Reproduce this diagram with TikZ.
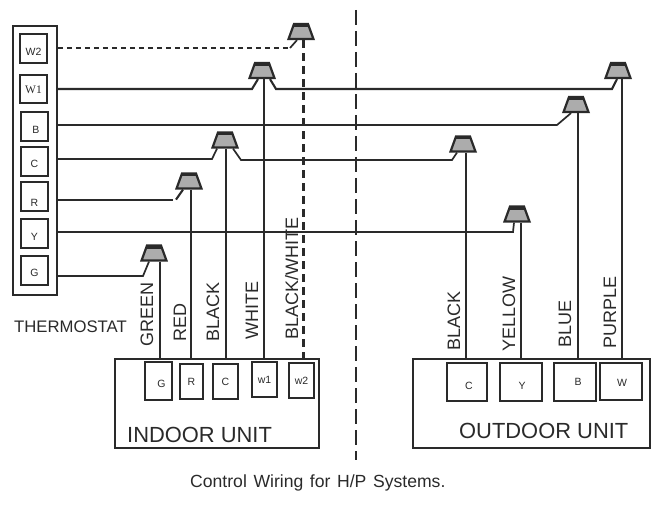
\documentclass[tikz,border=0pt]{standalone}
\usepackage{fontspec}
\setmainfont{Liberation Sans}
\newfontfamily\wserif{Liberation Serif}
\usepackage{xcolor}
\usepackage{tikz}
\usetikzlibrary{calc,shapes.geometric}
\definecolor{WireDark}{RGB}{42, 42, 42}
\definecolor{PlugGray}{RGB}{172, 172, 172}
\tikzset{
    wire/.style={draw=WireDark, line width=1.7pt},
    heavywire/.style={draw=WireDark, line width=2.1pt},
    dashwire/.style={draw=WireDark, line width=1.9pt, dash pattern=on 5pt off 4pt},
    term/.style 2 args={draw=WireDark, line width=1.6pt, fill=white, inner sep=0pt, minimum width=#1, minimum height=#2},
    tlab/.style={text=WireDark, inner sep=0pt, font=\fontsize{10.5}{12}\selectfont},
    unit/.style={draw=WireDark, line width=1.4pt, inner sep=0pt},
    colour/.style={rotate=90, anchor=base west, inner sep=0pt, text=WireDark, font=\fontsize{18}{20}\selectfont},
    big/.style={anchor=base west, inner sep=0pt, text=WireDark, font=\fontsize{21.9}{24}\selectfont},
    plug/.style={trapezium, trapezium angle=70, draw=WireDark, fill=PlugGray,
        line width=2.2pt, inner sep=0pt,
        execute at begin node={\phantom{\rule{14pt}{15pt}}},
        path picture={\fill[WireDark] (path picture bounding box.north west) rectangle
            ([yshift=-3pt]path picture bounding box.north east);}}
}
\begin{document}
\begin{tikzpicture}[x=1pt, y=-1pt]
    \useasboundingbox (0,0) rectangle (666,513);

    % Thermostat
    \node[term={44pt}{269pt}, line width=1.8pt] (thermo) at (35,160.5) {};
    \node[term={27pt}{29pt}, label={[tlab, yshift=-3pt]center:W2}] (tW2) at (33.5,48.5) {};
    \node[term={27pt}{28pt}, label={[tlab, font=\wserif\fontsize{11.5}{12}\selectfont, yshift=-1pt]center:W1}] (tW1) at (33.5,89) {};
    \node[term={27pt}{29pt}, label={[tlab, xshift=1.5pt, yshift=-3.5pt]center:B}] (tB) at (34.5,126.5) {};
    \node[term={27pt}{29pt}, label={[tlab, yshift=-2pt]center:C}] (tC) at (34.5,161.5) {};
    \node[term={27pt}{29pt}, label={[tlab, yshift=-6.5pt]center:R}] (tR) at (34.5,196.5) {};
    \node[term={27pt}{29pt}, label={[tlab, yshift=-3.5pt]center:Y}] (tY) at (34.5,233.5) {};
    \node[term={27pt}{29pt}, label={[tlab, yshift=-2.5pt]center:G}] (tG) at (34.5,270.5) {};
    \node[anchor=base west, inner sep=0pt, text=WireDark, font=\fontsize{16.7}{18}\selectfont] (thermoname) at (14,332) {THERMOSTAT};

    % Indoor unit
    \node[unit, minimum width=204pt, minimum height=89pt] (indoor) at (217,403.5) {};
    \node[term={27pt}{38pt}, label={[tlab, xshift=3pt, yshift=-3pt]center:G}] (iG) at (158.5,381) {};
    \node[term={23pt}{35pt}, tlab, line width=1.6pt, draw=WireDark] (iR) at (191.5,381.5) {R};
    \node[term={25pt}{35pt}, tlab, line width=1.6pt, draw=WireDark] (iC) at (225.5,381.5) {C};
    \node[term={25pt}{35pt}, tlab, line width=1.6pt, draw=WireDark] (iW1) at (264.5,379.5) {w1};
    \node[term={25pt}{35pt}, tlab, line width=1.6pt, draw=WireDark] (iW2) at (301.5,380.5) {w2};
    \node[big] (indoorname) at (127,442) {INDOOR UNIT};

    % Outdoor unit
    \node[unit, minimum width=237pt, minimum height=89pt] (outdoor) at (531.5,403.5) {};
    \node[term={40pt}{38pt}, label={[tlab, xshift=2pt, yshift=-4pt]center:C}] (oC) at (467,382) {};
    \node[term={42pt}{38pt}, label={[tlab, xshift=1pt, yshift=-4pt]center:Y}] (oY) at (521,382) {};
    \node[term={42pt}{38pt}, label={[tlab, xshift=3pt]center:B}] (oB) at (575,382) {};
    \node[term={42pt}{37pt}, label={[tlab, xshift=1pt, yshift=-1.5pt]center:W}] (oW) at (621,381.5) {};
    \node[big] (outdoorname) at (459,438) {OUTDOOR UNIT};

    % Plugs
    \node[plug] (pW2) at (301,31.5) {};
    \node[plug] (pW1) at (262,70.5) {};
    \node[plug] (pC) at (225,140) {};
    \node[plug] (pR) at (189,181) {};
    \node[plug] (pG) at (154,253) {};
    \node[plug] (pPurple) at (618,70.5) {};
    \node[plug] (pBlue) at (576,104.5) {};
    \node[plug] (pBlack) at (463,144) {};
    \node[plug] (pYellow) at (517,214) {};

    % Bends of the wires
    \coordinate (bendW2) at (290,48);
    \coordinate (bendW1a) at (252,89);
    \coordinate (bendW1b) at (276,89);
    \coordinate (bendW1c) at (612,89);
    \coordinate (bendB) at (557,125);
    \coordinate (bendCa) at (212,159);
    \coordinate (bendCb) at (241,160);
    \coordinate (bendCc) at (452,160);
    \coordinate (bendR) at (173,200);
    \coordinate (bendY) at (513,232);
    \coordinate (bendG) at (143,276);

    % Thermostat side
    \draw[dashwire] (thermo.east |- bendW2) -- (bendW2);
    \draw[wire] (bendW2) -- ([xshift=-4pt]pW2.south);
    \draw[heavywire] (thermo.east |- bendW1a) -- (bendW1a) -- ([xshift=-4pt]pW1.south);
    \draw[heavywire] ([xshift=8pt]pW1.south) -- (bendW1b) -- (bendW1c) -- ([xshift=-1pt]pPurple.south);
    \draw[wire] (thermo.east |- bendB) -- (bendB) -- ([xshift=-5pt]pBlue.south);
    \draw[wire] (thermo.east |- bendCa) -- (bendCa) -- ([xshift=-8pt]pC.south);
    \draw[wire] ([xshift=8pt]pC.south) -- (bendCb) -- (bendCc) -- ([xshift=-6pt]pBlack.south);
    \draw[wire] (thermo.east |- bendR) -- (bendR);
    \draw[heavywire] ([xshift=-13pt, yshift=-10pt]pR.south) -- ([xshift=-6pt]pR.south);
    \draw[wire] (thermo.east |- bendY) -- (bendY) -- ([xshift=-3pt]pYellow.south);
    \draw[wire] (thermo.east |- bendG) -- (bendG) -- ([xshift=-5pt]pG.south);

    % Wires down to the units
    \draw[wire] ([xshift=6pt]pG.south) -- ([xshift=6pt]pG.south |- indoor.north);
    \draw[wire] ([xshift=2pt]pR.south) -- ([xshift=2pt]pR.south |- indoor.north);
    \draw[wire] ([xshift=1pt]pC.south) -- ([xshift=1pt]pC.south |- indoor.north);
    \draw[wire] ([xshift=2pt]pW1.south) -- ([xshift=2pt]pW1.south |- indoor.north);
    \draw[draw=WireDark, line width=3pt, dash pattern=on 8pt off 5pt] ([xshift=2.5pt]pW2.south) -- ([xshift=2.5pt]pW2.south |- indoor.north);
    \draw[wire] ([xshift=3pt]pBlack.south) -- ([xshift=3pt]pBlack.south |- outdoor.north);
    \draw[wire] ([xshift=4pt]pYellow.south) -- ([xshift=4pt]pYellow.south |- outdoor.north);
    \draw[wire] ([xshift=2pt]pBlue.south) -- ([xshift=2pt]pBlue.south |- outdoor.north);
    \draw[wire] ([xshift=4pt]pPurple.south) -- ([xshift=4pt]pPurple.south |- outdoor.north);

    % Divider between indoor and outdoor
    \draw[draw=WireDark, line width=1.5pt, dash pattern=on 15pt off 6pt] (356,10) -- (356,460);

    % Wire colours
    \node[colour] (cGreen) at (153,347) {GREEN};
    \node[colour] (cRed) at (186,342) {RED};
    \node[colour] (cBlack) at (219,342) {BLACK};
    \node[colour] (cWhite) at (258,340) {WHITE};
    \node[colour] (cBlackWhite) at (298,340) {BLACK/WHITE};
    \node[colour] (cBlackO) at (460,351) {BLACK};
    \node[colour] (cYellow) at (515,352) {YELLOW};
    \node[colour] (cBlue) at (571,348) {BLUE};
    \node[colour] (cPurple) at (616,349) {PURPLE};

    % Caption
    \node[anchor=base west, inner sep=0pt, text=WireDark, font=\fontsize{17.6}{18}\selectfont] (caption) at (190,487) {\spaceskip=6.6pt\relax Control Wiring for H/P Systems.};
\end{tikzpicture}
\end{document}
